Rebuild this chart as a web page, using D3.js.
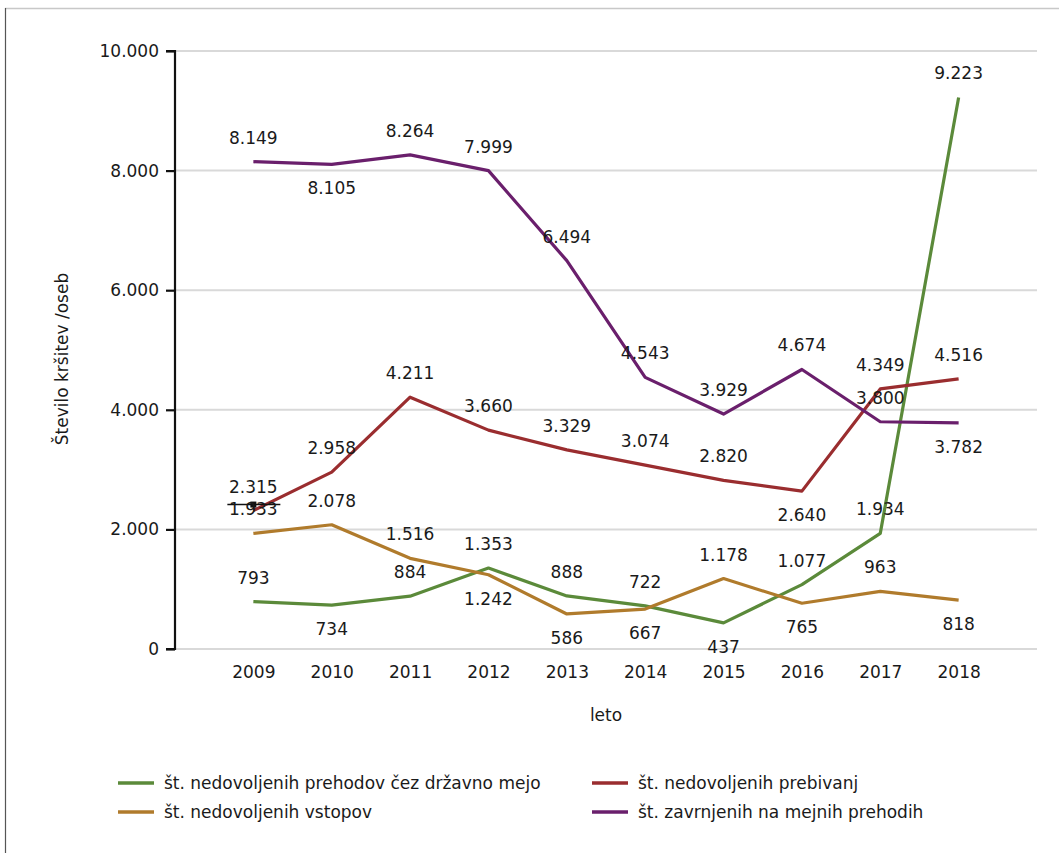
<!DOCTYPE html>
<html>
<head>
<meta charset="utf-8">
<script src="https://cdn.jsdelivr.net/npm/d3@7"></script>
<style>
  html, body { margin: 0; padding: 0; background: #fff; }
  svg { display: block; font-family: "DejaVu Sans", Verdana, sans-serif; }
</style>
</head>
<body>
<svg id="chart" width="1059" height="853"></svg>
<script>
// Years on the x axis
const years = [2009, 2010, 2011, 2012, 2013, 2014, 2015, 2016, 2017, 2018];

// Series values (number of persons)
const prehodi   = [793, 734, 884, 1353, 888, 722, 437, 1077, 1934, 9223];
const vstopi    = [1933, 2078, 1516, 1242, 586, 667, 1178, 765, 963, 818];
const prebivanja = [2315, 2958, 4211, 3660, 3329, 3074, 2820, 2640, 4349, 4516];
const zavrnjeni = [8149, 8105, 8264, 7999, 6494, 4543, 3929, 4674, 3800, 3782];

// Series names
const seriesNames = [
  "št. nedovoljenih prehodov čez državno mejo",
  "št. nedovoljenih vstopov",
  "št. nedovoljenih prebivanj",
  "št. zavrnjenih na mejnih prehodih"
];

// Y tick values
const yTicks = [0, 2000, 4000, 6000, 8000, 10000];

// Value label side for each point: "a" above the line, "b" below
const sidePrehodi    = ["a","b","a","a","a","a","b","a","a","a"];
const sideVstopi     = ["a","a","a","b","b","b","a","b","a","b"];
const sidePrebivanja = ["a","a","a","a","a","a","a","b","a","a"];
const sideZavrnjeni  = ["a","b","a","a","a","a","a","a","a","b"];

const colors = ["#5b8a3a", "#b07b2c", "#9a2d2f", "#6a1f6c"];

const series = [
  { name: seriesNames[0], values: prehodi, side: sidePrehodi, color: colors[0] },
  { name: seriesNames[1], values: vstopi, side: sideVstopi, color: colors[1] },
  { name: seriesNames[2], values: prebivanja, side: sidePrebivanja, color: colors[2] },
  { name: seriesNames[3], values: zavrnjeni, side: sideZavrnjeni, color: colors[3] }
];

const locale = d3.formatLocale({ decimal: ",", thousands: ".", grouping: [3], currency: ["", " €"] });
const fmt = locale.format(",d");

const svg = d3.select("#chart");

// Outer frame
svg.append("line").attr("x1", 5).attr("x2", 1059).attr("y1", 8.5).attr("y2", 8.5)
  .attr("stroke", "#c8c8c8").attr("stroke-width", 1.5);
svg.append("line").attr("x1", 5.5).attr("x2", 5.5).attr("y1", 8).attr("y2", 853)
  .attr("stroke", "#555").attr("stroke-width", 1.2);

const plot = { left: 175, right: 1037, top: 51, bottom: 649 };

const x = d3.scalePoint().domain(years).range([plot.left, plot.right]).padding(1);
const y = d3.scaleLinear().domain([0, 10000]).range([plot.bottom, plot.top]);

// Gridlines
svg.append("g").selectAll("line").data(yTicks).join("line")
  .attr("x1", plot.left).attr("x2", plot.right)
  .attr("y1", d => y(d)).attr("y2", d => y(d))
  .attr("stroke", "#d9d9d9").attr("stroke-width", 2);

// Y axis
const yAxis = svg.append("g")
  .attr("transform", `translate(${plot.left},0)`)
  .call(d3.axisLeft(y).tickValues(yTicks).tickFormat(fmt).tickSize(9).tickPadding(7));
yAxis.select(".domain").attr("stroke", "#111").attr("stroke-width", 2.2).attr("d", `M-9,${y(10000)}H0V${y(0)}H-9`);
yAxis.selectAll(".tick line").attr("stroke", "#111").attr("stroke-width", 2.2);
yAxis.selectAll(".tick text").attr("font-size", 17).attr("fill", "#1a1a1a")
  .attr("font-family", "DejaVu Sans, sans-serif");

// X axis labels (no axis line)
const xAxis = svg.append("g")
  .attr("transform", `translate(0,${plot.bottom})`)
  .call(d3.axisBottom(x).tickSize(0).tickPadding(17));
xAxis.select(".domain").remove();
xAxis.selectAll(".tick text").attr("font-size", 17).attr("fill", "#1a1a1a")
  .attr("font-family", "DejaVu Sans, sans-serif");

// Axis titles
svg.append("text")
  .attr("transform", `translate(68,${(plot.top + plot.bottom) / 2 + 9}) rotate(-90)`)
  .attr("text-anchor", "middle").attr("font-size", 17).attr("fill", "#1a1a1a")
  .text("Število kršitev /oseb");
svg.append("text")
  .attr("x", (plot.left + plot.right) / 2).attr("y", 721)
  .attr("text-anchor", "middle").attr("font-size", 17).attr("fill", "#1a1a1a")
  .text("leto");

// Lines
const line = d3.line().x((d, i) => x(years[i])).y(d => y(d));
svg.append("g").selectAll("path").data(series).join("path")
  .attr("d", s => line(s.values))
  .attr("fill", "none")
  .attr("stroke", s => s.color)
  .attr("stroke-width", 3.2)
  .attr("stroke-linejoin", "round");

// Hover marker on the first point
const mx = x(years[0]), my = y(prebivanja[0]) - 6;
svg.append("line").attr("x1", mx - 26).attr("x2", mx + 27).attr("y1", my).attr("y2", my)
  .attr("stroke", "#111").attr("stroke-width", 1.6);
svg.append("rect").attr("x", mx - 3).attr("y", my - 3).attr("width", 6).attr("height", 6)
  .attr("fill", "#111");

// Value labels
series.forEach(s => {
  svg.append("g").selectAll("text").data(s.values).join("text")
    .attr("x", (d, i) => x(years[i]))
    .attr("y", (d, i) => y(d) + (s.side[i] === "a" ? -24 : 24) + 6)
    .attr("text-anchor", "middle")
    .attr("font-size", 17)
    .attr("fill", "#1a1a1a")
    .text(d => fmt(d));
});

// Legend (two columns)
const legendPos = [
  { lx: 118, ly: 783 },
  { lx: 118, ly: 812 },
  { lx: 592, ly: 783 },
  { lx: 592, ly: 812 }
];
const legend = svg.append("g").selectAll("g").data(series).join("g")
  .attr("transform", (s, i) => `translate(${legendPos[i].lx},${legendPos[i].ly})`);
legend.append("line").attr("x1", 0).attr("x2", 36).attr("y1", 0).attr("y2", 0)
  .attr("stroke", s => s.color).attr("stroke-width", 3.5);
legend.append("text").attr("x", 46).attr("y", 6)
  .attr("font-size", 17).attr("fill", "#1a1a1a")
  .text(s => s.name);
</script>
</body>
</html>
